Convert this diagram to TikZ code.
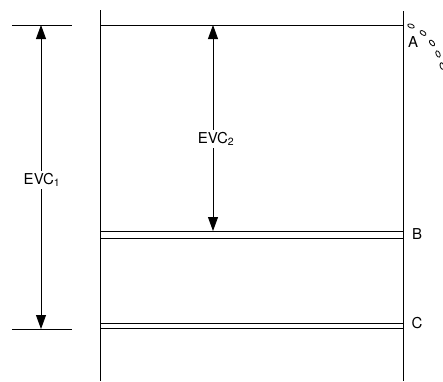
\documentclass[tikz,border=0pt]{standalone}
\usepackage{fontspec}
\setmainfont{TeX Gyre Heros}
\usetikzlibrary{arrows.meta,positioning}

\begin{document}
\begin{tikzpicture}[x=1pt, y=-1pt, line width=0.8pt,
  every node/.style={font=\fontsize{15}{16}\selectfont, inner sep=2pt},
  tip/.style={-{Triangle[length=14pt,width=10pt]}},
  lvl/.style={line width=0.8pt}]
\useasboundingbox (0,0) rectangle (443,381);
% walls
\coordinate (lt) at (100,10); \coordinate (lb) at (100,381);
\coordinate (rt) at (403,11); \coordinate (rb) at (403,381);
\draw (lt) -- (lb);
\draw (rt) -- (rb);
% levels
\coordinate (a1) at (100,25); \coordinate (a2) at (403,25);
\draw[lvl] (a1) -- (a2);
\coordinate (b1) at (100,231); \coordinate (b2) at (403,231);
\coordinate (b3) at (100,238); \coordinate (b4) at (403,238);
\draw[lvl] (b1) -- (b2); \draw[lvl] (b3) -- (b4);
\coordinate (c1) at (100,323); \coordinate (c2) at (403,323);
\coordinate (c3) at (100,328); \coordinate (c4) at (403,328);
\draw[lvl] (c1) -- (c2); \draw[lvl] (c3) -- (c4);
% ticks on the left
\coordinate (t1) at (12,25); \coordinate (t2) at (72,25);
\coordinate (t3) at (12,329); \coordinate (t4) at (72,329);
\draw (t1) -- (t2); \draw (t3) -- (t4);
% labels
\node (A) at (413,42) {A};
\node (B) at (417,234) {B};
\node (C) at (417,323) {C};
\node (evc1) at (42,180) {EVC\textsubscript{1}};
\node (evc2) at (216,139) {EVC\textsubscript{2}};
% dimension arrows
\coordinate (e1t) at (41,25); \coordinate (e1b) at (41,329);
\coordinate (e2t) at (213,25); \coordinate (e2b) at (213,231);
\draw[tip] (e1t |- evc1.north) -- (e1t);
\draw[tip] (e1t |- evc1.south) -- (e1b);
\draw[tip] (e2t |- evc2.north) -- (e2t);
\draw[tip] (e2t |- evc2.south) -- (e2b);
% drips
\foreach \px/\py/\ang in {411/26/-20, 423/33/-35, 432/43/-50, 438/54/-65, 442/66/-75}
  \draw[line width=0.8pt, rotate around={\ang:(\px,\py)}] (\px,\py) ellipse (3.4 and 1.9);
\end{tikzpicture}
\end{document}
